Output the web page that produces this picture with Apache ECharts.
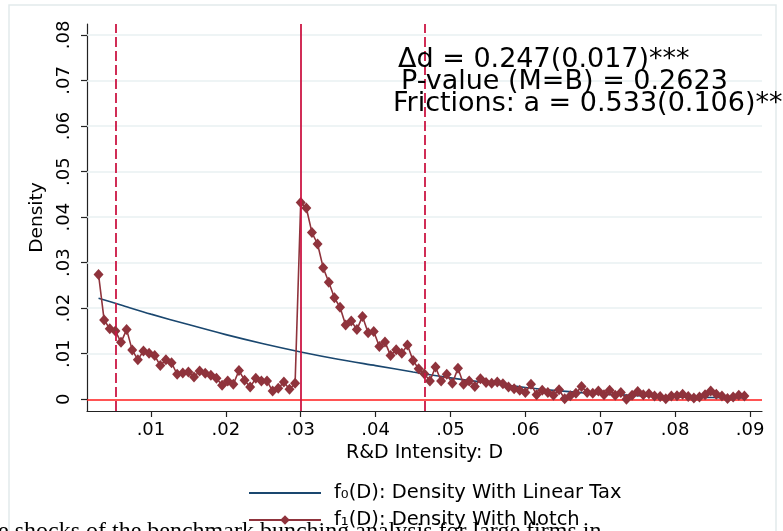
<!DOCTYPE html>
<html><head><meta charset="utf-8">
<script src="https://cdn.jsdelivr.net/npm/echarts@6/dist/echarts.min.js"></script>
<style>html,body{margin:0;padding:0;background:#fff}#c{width:783px;height:531px}</style>
</head><body><div id="c"></div>
<script>
// R&D intensity bins (x)
const dX = [
0.00300,0.00375,0.00450,0.00525,0.00600,0.00675,0.00750,0.00825,0.00900,0.00975,
0.01050,0.01125,0.01200,0.01275,0.01350,0.01425,0.01500,0.01575,0.01650,0.01725,
0.01800,0.01875,0.01950,0.02025,0.02100,0.02175,0.02250,0.02325,0.02400,0.02475,
0.02550,0.02625,0.02700,0.02775,0.02850,0.02925,0.03000,0.03075,0.03150,0.03225,
0.03300,0.03375,0.03450,0.03525,0.03600,0.03675,0.03750,0.03825,0.03900,0.03975,
0.04050,0.04125,0.04200,0.04275,0.04350,0.04425,0.04500,0.04575,0.04650,0.04725,
0.04800,0.04875,0.04950,0.05025,0.05100,0.05175,0.05250,0.05325,0.05400,0.05475,
0.05550,0.05625,0.05700,0.05775,0.05850,0.05925,0.06000,0.06075,0.06150,0.06225,
0.06300,0.06375,0.06450,0.06525,0.06600,0.06675,0.06750,0.06825,0.06900,0.06975,
0.07050,0.07125,0.07200,0.07275,0.07350,0.07425,0.07500,0.07575,0.07650,0.07725,
0.07800,0.07875,0.07950,0.08025,0.08100,0.08175,0.08250,0.08325,0.08400,0.08475,
0.08550,0.08625,0.08700,0.08775,0.08850,0.08925];
// f1(D): density with notch
const f1Y = [
0.0274,0.0174,0.0155,0.0150,0.0125,0.0153,0.0108,0.0087,0.0106,0.0101,
0.0096,0.0074,0.0087,0.0080,0.0055,0.0058,0.0060,0.0049,0.0062,0.0057,
0.0053,0.0046,0.0031,0.0040,0.0033,0.0063,0.0042,0.0027,0.0046,0.0040,
0.0040,0.0018,0.0024,0.0038,0.0022,0.0035,0.0432,0.0420,0.0366,0.0341,
0.0289,0.0257,0.0223,0.0202,0.0163,0.0172,0.0153,0.0182,0.0146,0.0149,
0.0116,0.0126,0.0096,0.0109,0.0101,0.0119,0.0085,0.0067,0.0056,0.0040,
0.0071,0.0040,0.0055,0.0035,0.0068,0.0033,0.0040,0.0028,0.0045,0.0037,
0.0035,0.0038,0.0034,0.0027,0.0023,0.0020,0.0015,0.0033,0.0010,0.0020,
0.0015,0.0009,0.0021,0.0001,0.0008,0.0013,0.0028,0.0015,0.0013,0.0018,
0.0010,0.0020,0.0009,0.0015,0.0000,0.0009,0.0017,0.0010,0.0012,0.0007,
0.0006,0.0001,0.0007,0.0008,0.0011,0.0006,0.0003,0.0005,0.0010,0.0018,
0.0011,0.0007,0.0002,0.0005,0.0009,0.0007];
// f0(D): density with linear tax (read at sample points)
const f0X = [0.0030,0.0060,0.0100,0.0150,0.0200,0.0250,0.0300,0.0350,0.0400,0.0450,0.0500,0.0550,0.0600,0.0650,0.0700,0.0750,0.0800,0.0850,0.08925];
const f0Y = [0.0222,0.0207,0.0187,0.0164,0.0142,0.0122,0.0104,0.0088,0.0074,0.0060,0.0047,0.0036,0.0026,0.0018,0.0012,0.0008,0.0005,0.0004,0.0003];
const xTicks = [0.01,0.02,0.03,0.04,0.05,0.06,0.07,0.08,0.09];
const yTicks = [0,0.01,0.02,0.03,0.04,0.05,0.06,0.07,0.08];
const gridVals = [0.01,0.02,0.03,0.04,0.05,0.06,0.07,0.08];
const bandLines = [0.00525, 0.0465];
const notchLine = 0.03;
const names = ['f\u2080(D): Density With Linear Tax', 'f\u2081(D): Density With Notch'];
const notes = ['\u0394d = 0.247(0.017)***', 'P-value (M=B) = 0.2623', 'Frictions: a = 0.533(0.106)***'];
const bottomText = 'e shocks of the benchmark bunching analysis for large firms in';

const FONT = 'DejaVu Sans';
const fmt = v => v === 0 ? '0' : v.toFixed(2).replace(/^0/, '');
const legendBase = {
  orient: 'vertical', left: 243, itemWidth: 72, itemHeight: 12,
  textStyle: {fontSize: 19.5, color: '#000', lineHeight: 20, fontFamily: FONT, padding: [0, 0, 0, 8]}
};
const chart = echarts.init(document.getElementById('c'));
chart.setOption({
  animation: false,
  backgroundColor: '#fff',
  textStyle: {fontFamily: FONT},
  grid: {left: 87, right: 21, top: 24, bottom: 120},
  xAxis: {
    type: 'value', min: 0.00146, max: 0.0916,
    name: 'R&D Intensity: D', nameLocation: 'middle', nameGap: 31,
    nameTextStyle: {fontSize: 19, color: '#000', fontFamily: FONT},
    axisLine: {show: true, onZero: false, lineStyle: {color: '#222', width: 1.2}},
    axisTick: {show: true, customValues: xTicks, length: 6, lineStyle: {color: '#222', width: 1.2}},
    axisLabel: {customValues: xTicks, formatter: fmt, fontSize: 18, color: '#000', margin: 10, fontFamily: FONT},
    splitLine: {show: false}
  },
  yAxis: {
    type: 'value', min: -0.00257, max: 0.0824,
    name: 'Density', nameLocation: 'middle', nameGap: 35, nameRotate: 90,
    nameTextStyle: {fontSize: 18.5, color: '#000', fontFamily: FONT},
    axisLine: {show: true, onZero: false, lineStyle: {color: '#222', width: 1.2}},
    axisTick: {show: true, customValues: yTicks, length: 6, lineStyle: {color: '#222', width: 1.2}},
    axisLabel: {customValues: yTicks, formatter: fmt, rotate: 90, fontSize: 18, color: '#000', margin: 14, fontFamily: FONT},
    splitLine: {show: false}
  },
  legend: [
    Object.assign({}, legendBase, {top: 478, data: [{name: names[0], itemStyle: {opacity: 0}}]}),
    Object.assign({}, legendBase, {top: 505, data: [names[1]]})
  ],
  series: [
    {
      type: 'line', name: 'bg', z: 1, data: [], silent: true,
      markLine: {
        silent: true, symbol: ['none', 'none'], label: {show: false}, z: 1, precision: 8,
        data: gridVals.map(v => ({yAxis: v, lineStyle: {color: '#e9f0f2', width: 1.5, type: 'solid'}}))
          .concat([{yAxis: 0, lineStyle: {color: '#ff1a1a', width: 1.6, type: 'solid'}}])
      }
    },
    {
      type: 'line', name: names[0], z: 3, smooth: 0.3, symbol: 'none', showSymbol: false,
      data: f0X.map((x, i) => [x, f0Y[i]]),
      lineStyle: {color: '#1a476f', width: 1.6}, itemStyle: {color: '#1a476f'}
    },
    {
      type: 'line', name: names[1], z: 4, symbol: 'diamond', symbolSize: [10, 11],
      data: dX.map((x, i) => [x, f1Y[i]]),
      lineStyle: {color: '#8f333c', width: 1.6}, itemStyle: {color: '#8f333c'}
    },
    {
      type: 'line', name: 'vl', z: 6, data: [], silent: true,
      markLine: {
        silent: true, symbol: ['none', 'none'], label: {show: false}, z: 6, precision: 8,
        data: bandLines.map(v => ({xAxis: v, lineStyle: {color: '#cc1744', width: 1.8, type: [10, 4]}}))
          .concat([{xAxis: notchLine, lineStyle: {color: '#cc1744', width: 1.8, type: 'solid'}}])
      }
    }
  ],
  graphic: [
    {type: 'rect', z: 0, shape: {x: 9, y: 5, width: 767, height: 620}, style: {fill: 'none', stroke: '#e2eaec', lineWidth: 1.5}},
    {type: 'text', z: 100, x: 398, y: 59.5, style: {text: notes[0], font: '27px "DejaVu Sans"', fill: '#000', textVerticalAlign: 'middle'}},
    {type: 'text', z: 100, x: 401, y: 82, style: {text: notes[1], font: '27px "DejaVu Sans"', fill: '#000', textVerticalAlign: 'middle'}},
    {type: 'text', z: 100, x: 393, y: 104, style: {text: notes[2], font: '27px "DejaVu Sans"', fill: '#000', textVerticalAlign: 'middle'}},
    {type: 'text', z: 100, x: -2, y: 520, style: {text: bottomText, font: '24px "Liberation Serif"', fill: '#000', textVerticalAlign: 'top'}}
  ]
});
</script></body></html>
